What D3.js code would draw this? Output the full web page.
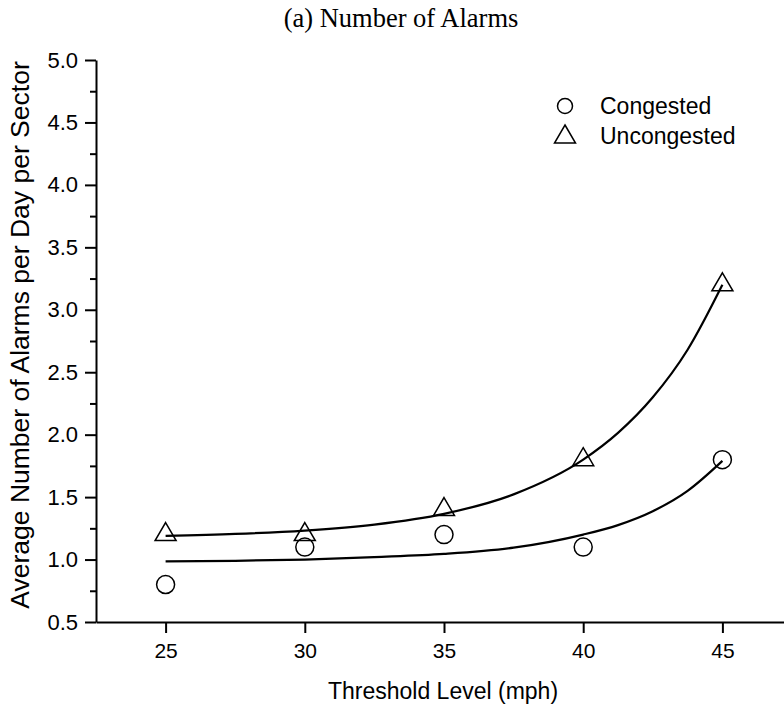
<!DOCTYPE html>
<html>
<head>
<meta charset="utf-8">
<script src="https://cdn.jsdelivr.net/npm/d3@7"></script>
<style>
  body { margin: 0; background: #fff; }
  text { font-family: "Liberation Sans", Arial, sans-serif; fill: #000; }
</style>
</head>
<body>
<svg id="chart" width="784" height="708"></svg>
<script>
// measured points
var thresholds = [25, 30, 35, 40, 45];
var congested = [0.8, 1.1, 1.2, 1.1, 1.8];
var uncongested = [1.2, 1.2, 1.4, 1.8, 3.2];

// fitted curves
var fitX = [25, 27.5, 30, 32.5, 35, 37.5, 40, 41.25, 42.5, 43.75, 45];
var congestedFit = [0.985, 0.99, 1.0, 1.02, 1.045, 1.095, 1.2, 1.276, 1.387, 1.55, 1.79];
var uncongestedFit = [1.19, 1.205, 1.232, 1.28, 1.366, 1.522, 1.8, 2.014, 2.299, 2.68, 3.2];

var yTicks = [0.5, 1.0, 1.5, 2.0, 2.5, 3.0, 3.5, 4.0, 4.5, 5.0];
var yMinor = [0.75, 1.25, 1.75, 2.25, 2.75, 3.25, 3.75, 4.25, 4.75];

var svg = d3.select("#chart");

var x = d3.scaleLinear().domain([22.5, 47.5]).range([96, 792]);
var y = d3.scaleLinear().domain([0.5, 5.0]).range([622, 60]);

//title
svg.append("text")
    .attr("x", 401)
    .attr("y", 27)
    .attr("text-anchor", "middle")
    .style("font-family", "'Liberation Serif', 'Times New Roman', serif")
    .style("font-size", "26.5px")
    .text("(a) Number of Alarms");

//minor y ticks
svg.append("g")
    .attr("transform", "translate(96,0)")
    .call(d3.axisLeft(y).tickValues(yMinor).tickSize(6).tickFormat(""))
    .call(function(g){ g.select(".domain").remove(); })
    .selectAll("line").attr("stroke-width", 2);

//y axis
var yAxis = svg.append("g")
    .attr("transform", "translate(96,0)")
    .call(d3.axisLeft(y).tickValues(yTicks).tickSize(11).tickSizeOuter(0).tickPadding(7).tickFormat(d3.format(".1f")));
yAxis.selectAll("line").attr("stroke-width", 2);
yAxis.select(".domain").attr("stroke-width", 2);
yAxis.selectAll("text").style("font-size", "22px");

//x axis
var xAxis = svg.append("g")
    .attr("transform", "translate(0,622)")
    .call(d3.axisBottom(x).tickValues(thresholds).tickSize(11).tickSizeOuter(0).tickPadding(10));
xAxis.selectAll("line").attr("stroke-width", 2);
xAxis.select(".domain").attr("stroke-width", 2);
xAxis.selectAll("text").style("font-size", "21px");

//axis titles
svg.append("text")
    .attr("x", 443)
    .attr("y", 699)
    .attr("text-anchor", "middle")
    .style("font-size", "23px")
    .text("Threshold Level (mph)");

svg.append("text")
    .attr("transform", "translate(29,335) rotate(-90)")
    .attr("text-anchor", "middle")
    .style("font-size", "26.5px")
    .text("Average Number of Alarms per Day per Sector");

//fit curves
var line = d3.line()
    .x(function(d){ return x(d[0]); })
    .y(function(d){ return y(d[1]); })
    .curve(d3.curveMonotoneX);

[congestedFit, uncongestedFit].forEach(function(fit){
    svg.append("path")
        .attr("d", line(fitX.map(function(v, i){ return [v, fit[i]]; })))
        .attr("fill", "none")
        .attr("stroke", "#000")
        .attr("stroke-width", 2.2);
});

//markers
var tri = "M0,-12L10.5,6L-10.5,6Z";

svg.append("g").selectAll("circle")
    .data(thresholds)
    .enter()
    .append("circle")
    .attr("cx", function(d){ return x(d); })
    .attr("cy", function(d, i){ return y(congested[i]); })
    .attr("r", 9)
    .attr("fill", "none")
    .attr("stroke", "#000")
    .attr("stroke-width", 1.5);

svg.append("g").selectAll("path")
    .data(thresholds)
    .enter()
    .append("path")
    .attr("d", tri)
    .attr("transform", function(d, i){ return "translate(" + x(d) + "," + y(uncongested[i]) + ")"; })
    .attr("fill", "none")
    .attr("stroke", "#000")
    .attr("stroke-width", 1.5);

//legend
var legend = svg.append("g");
legend.append("circle")
    .attr("cx", 565).attr("cy", 106).attr("r", 7.5)
    .attr("fill", "none").attr("stroke", "#000").attr("stroke-width", 1.5);
legend.append("path")
    .attr("d", tri)
    .attr("transform", "translate(565,137)")
    .attr("fill", "none").attr("stroke", "#000").attr("stroke-width", 1.5);
legend.append("text").attr("x", 600).attr("y", 114).style("font-size", "23px").text("Congested");
legend.append("text").attr("x", 600).attr("y", 144).style("font-size", "23px").text("Uncongested");
</script>
</body>
</html>
